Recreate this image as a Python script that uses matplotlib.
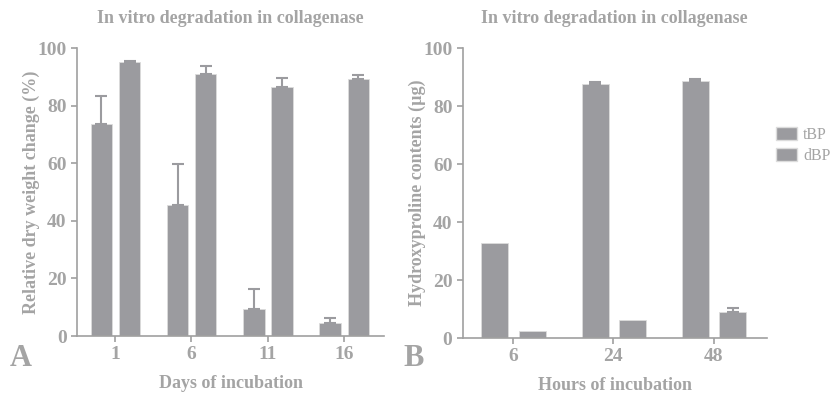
import numpy as np
import matplotlib
matplotlib.use("Agg")
import matplotlib.pyplot as plt
from matplotlib.patches import Patch

# panel A: relative dry weight change (%)
days = ["1", "6", "11", "16"]
a_tbp = [73.5, 45.5, 9.5, 4.5]
a_tbp_err = [10.0, 14.3, 7.0, 1.7]
a_dbp = [95.0, 91.0, 86.5, 89.3]
a_dbp_err = [0.5, 2.7, 3.1, 1.2]

# panel B: hydroxyproline contents (ug)
hours = ["6", "24", "48"]
b_tbp = [32.7, 87.7, 88.7]
b_tbp_err = [0.0, 0.7, 0.5]
b_dbp = [2.4, 6.1, 9.1]
b_dbp_err = [0.0, 0.0, 1.4]

bar_col = "#9b9b9f"
txt_col = "#a4a4a4"
plt.rcParams["font.family"] = ["Liberation Serif", "DejaVu Serif"]

fig = plt.figure(figsize=(8.37, 3.94), dpi=100)
axA = fig.add_axes([0.092, 0.147, 0.367, 0.731])
axB = fig.add_axes([0.553, 0.142, 0.363, 0.736])


def draw(ax, cats, tbp, tbp_err, dbp, dbp_err, width, ylabel, xlabel):
    x = np.arange(len(cats))
    for off, vals, errs in [(-0.18, tbp, tbp_err), (0.19, dbp, dbp_err)]:
        ax.bar(x + off, vals, width, color=bar_col, edgecolor="#dcdcdc", linewidth=0.6)
        errs = np.array(errs)
        keep = errs > 0
        ax.errorbar((x + off)[keep], np.array(vals)[keep],
                    yerr=[np.zeros(keep.sum()), errs[keep]], fmt="none",
                    ecolor=bar_col, elinewidth=1.5, capsize=4, capthick=1.5)
    ax.set_xticks(x)
    ax.set_xticklabels(cats)
    ax.set_xlim(-0.5, len(cats) - 0.47)
    ax.set_ylim(0, 100)
    ax.set_yticks([0, 20, 40, 60, 80, 100])
    for s in ["top", "right"]:
        ax.spines[s].set_visible(False)
    for s in ["left", "bottom"]:
        ax.spines[s].set_color("#a0a0a0")
        ax.spines[s].set_linewidth(1.2)
    ax.tick_params(colors="#a0a0a0", labelcolor=txt_col, width=1.2, length=4,
                   labelsize=14)
    for lab in ax.get_xticklabels() + ax.get_yticklabels():
        lab.set_fontweight("bold")
    ax.set_ylabel(ylabel, color=txt_col, fontsize=13, fontweight="bold", labelpad=-2)
    ax.set_xlabel(xlabel, color=txt_col, fontsize=13, fontweight="bold", labelpad=8)
    ax.set_title("In vitro degradation in collagenase", color=txt_col, fontsize=13,
                 fontweight="bold", pad=18)


draw(axA, days, a_tbp, a_tbp_err, a_dbp, a_dbp_err, 0.28,
     "Relative dry weight change (%)", "Days of incubation")
draw(axB, hours, b_tbp, b_tbp_err, b_dbp, b_dbp_err, 0.27,
     "Hydroxyproline contents (\u00b5g)", "Hours of incubation")

fig.text(0.012, 0.071, "A", color=txt_col, fontsize=22, fontweight="bold")
fig.text(0.482, 0.071, "B", color=txt_col, fontsize=22, fontweight="bold")

handles = [Patch(facecolor=bar_col, edgecolor="#dcdcdc", label="tBP"),
           Patch(facecolor=bar_col, edgecolor="#dcdcdc", label="dBP")]
leg = fig.legend(handles=handles, loc="upper left", bbox_to_anchor=(0.91, 0.715),
                 frameon=False, fontsize=11.5, handlelength=1.3, handleheight=0.85,
                 handletextpad=0.4, labelspacing=0.35)
for t in leg.get_texts():
    t.set_color(txt_col)

fig.savefig("out.png", dpi=100, facecolor="white")
